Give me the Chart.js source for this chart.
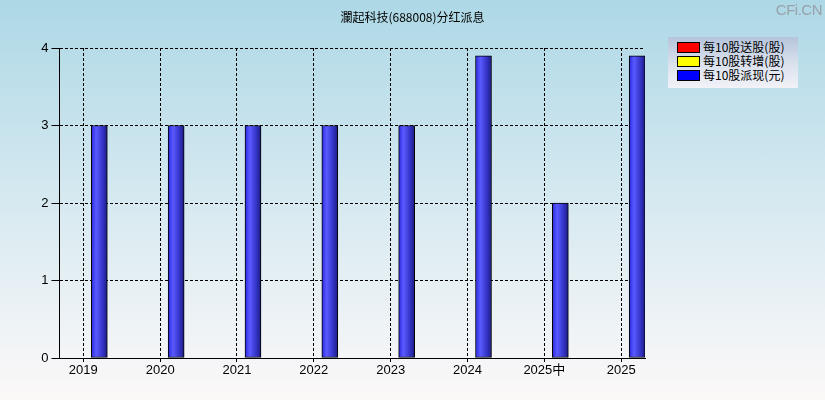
<!DOCTYPE html>
<html>
<head>
<meta charset="utf-8">
<script src="https://cdn.jsdelivr.net/npm/chart.js@4.4.1/dist/chart.umd.min.js"></script>
<style>
  html, body { margin: 0; padding: 0; }
  body {
    width: 825px; height: 400px; position: relative; overflow: hidden;
    background: linear-gradient(to bottom, #add8e6 0%, #d6e9f0 50%, #f3f5f7 88%, #fcf8f8 100%);
    font-family: "Liberation Sans", Arial, sans-serif;
  }
  #chart { position: absolute; left: 0; top: 0; }
  #title {
    position: absolute; left: 0; width: 825px; top: 8px; text-align: center;
    font: 12px "Noto Sans CJK SC", sans-serif; color: #000;
  }
  #mark {
    position: absolute; right: 3px; top: 1px;
    font: 15px "Liberation Sans", Arial, sans-serif; color: #98a2aa; letter-spacing: -0.5px;
  }
  #legend {
    position: absolute; left: 668px; top: 37px; width: 130px; height: 51px;
    background: linear-gradient(to bottom, #b5c4dc 0%, #d8e0ec 50%, #f2f2f8 100%);
    box-sizing: border-box; padding-top: 3px;
  }
  .item { height: 14px; position: relative; font: 12px "Noto Sans CJK SC", sans-serif; color: #000; line-height: 14px; }
  .sw { position: absolute; left: 9px; top: 2px; width: 21px; height: 9px; border: 1px solid #000; }
  .lb { position: absolute; left: 35px; top: 0; white-space: nowrap; }
</style>
</head>
<body>
<canvas id="chart" width="825" height="400"></canvas>
<div id="title">瀾起科技(688008)分红派息</div>
<div id="mark">CFi.CN</div>
<div id="legend"></div>
<script>
// data
const categories = ["2019", "2020", "2021", "2022", "2023", "2024", "2025中", "2025"];
const songGu = [0, 0, 0, 0, 0, 0, 0, 0];          // 每10股送股(股)
const zhuanZeng = [0, 0, 0, 0, 0, 0, 0, 0];       // 每10股转增(股)
const paiXian = [3, 3, 3, 3, 3, 3.9, 2, 3.9];     // 每10股派现(元)
const seriesNames = ["每10股送股(股)", "每10股转增(股)", "每10股派现(元)"];
const seriesColors = ["#ff0000", "#ffff00", "#0000ff"];
const yTicks = [0, 1, 2, 3, 4];

const BAR_W = 16;
const gradStops = [
    ["#e00000", "#ff5050", "#c80000", "#801010"],
    ["#e0e000", "#ffff60", "#c8c800", "#80800a"],
    ["#2828e0", "#5a5aff", "#3434c8", "#1c1c80"]
];

function barFill(ctx, s) {
    if (ctx.type !== "data") return seriesColors[s];
    if (!ctx.raw || !ctx.raw.y) return "rgba(0,0,0,0)";
    const chart = ctx.chart;
    const center = chart.scales.x ? chart.scales.x.getPixelForValue(ctx.dataIndex) : NaN;
    if (!isFinite(center)) return seriesColors[s];
    const left = center - BAR_W * 1.5 + s * BAR_W;
    const g = chart.ctx.createLinearGradient(left, 0, left + BAR_W, 0);
    g.addColorStop(0, gradStops[s][0]);
    g.addColorStop(0.3, gradStops[s][1]);
    g.addColorStop(0.7, gradStops[s][2]);
    g.addColorStop(1, gradStops[s][3]);
    return g;
}

const seriesData = [songGu, zhuanZeng, paiXian];
const datasets = seriesData.map((arr, s) => ({
    label: seriesNames[s],
    data: arr.map((v, i) => ({ x: i, y: v })),
    backgroundColor: ctx => barFill(ctx, s),
    borderColor: "#000",
    borderWidth: arr.map(v => (v > 0 ? 1 : 0)),
    borderSkipped: false,
    barThickness: BAR_W
}));

// html legend from the series lists
const legend = document.getElementById("legend");
seriesNames.forEach((name, s) => {
    const row = document.createElement("div");
    row.className = "item";
    row.innerHTML = `<span class="sw" style="background:${seriesColors[s]}"></span><span class="lb">${name}</span>`;
    legend.appendChild(row);
});

const tickFont = { family: "'Liberation Sans', Arial, 'Noto Sans CJK SC', sans-serif", size: 13 };

new Chart(document.getElementById("chart").getContext("2d"), {
    type: "bar",
    data: { datasets },
    options: {
        responsive: false,
        animation: false,
        devicePixelRatio: 1,
        layout: { padding: { top: 48, right: 180, left: 0, bottom: 0 } },
        plugins: { legend: { display: false }, tooltip: { enabled: false }, title: { display: false } },
        scales: {
            x: {
                type: "linear",
                min: -0.31,
                max: categories.length - 1 + 0.31,
                offset: false,
                afterBuildTicks: scale => { scale.ticks = categories.map((c, i) => ({ value: i })); },
                afterFit: scale => { scale.height = 42; },
                ticks: {
                    callback: v => categories[v],
                    color: "#000",
                    font: tickFont,
                    padding: 0,
                    maxRotation: 0,
                    autoSkip: false
                },
                grid: {
                    color: "#000",
                    offset: false,
                    tickLength: 5,
                    tickColor: "#000",
                    tickBorderDash: [3, 2]
                },
                border: { display: true, color: "#000", width: 1, dash: [3, 2] }
            },
            y: {
                min: 0,
                max: 4,
                afterBuildTicks: scale => { scale.ticks = yTicks.map(v => ({ value: v })); },
                afterFit: scale => { scale.width = 59.5; },
                ticks: { color: "#000", font: tickFont, padding: 3 },
                grid: {
                    color: "#000",
                    tickLength: 8,
                    tickColor: "#000"
                },
                border: { display: true, color: "#000", width: 1, dash: [3, 2] }
            }
        }
    }
});
</script>
</body>
</html>
